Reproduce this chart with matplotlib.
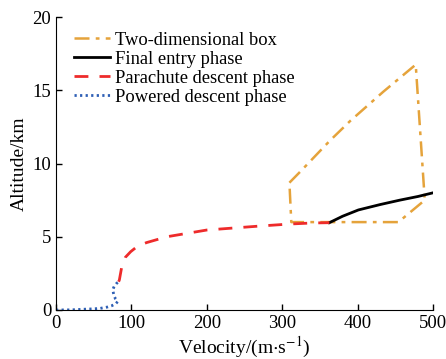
import matplotlib.pyplot as plt

plt.rcParams['font.family'] = ['Liberation Serif', 'DejaVu Serif']
plt.rcParams['mathtext.fontset'] = 'stix'

# 二维盒子边界
box_v = [309.5, 324, 363, 390, 434, 477, 489, 454, 312, 309.5]
box_h = [8.69, 9.45, 11.55, 12.9, 14.9, 16.75, 7.5, 6.0, 6.0, 8.69]

# 最终进入段
entry_v = [362.5, 380, 401, 430, 456, 480, 500]
entry_h = [5.96, 6.4, 6.83, 7.2, 7.5, 7.75, 8.0]

# 降落伞减速段
chute_v = [83, 84, 87, 92, 99, 108, 120, 147, 200, 270, 310, 340, 362.5]
chute_h = [1.93, 2.05, 2.9, 3.6, 3.98, 4.35, 4.6, 5.0, 5.46, 5.73, 5.87, 5.94, 5.96]

# 动力下降段
power_v = [0, 20, 36, 50, 58.4, 68, 73.8, 79, 81.8, 79, 77, 75.2, 77, 80, 83]
power_h = [0, 0.01, 0.05, 0.08, 0.11, 0.2, 0.29, 0.42, 0.57, 0.75, 0.96, 1.37, 1.6, 1.8, 1.93]

fig = plt.figure(figsize=(4.46, 3.59), dpi=100)
ax = fig.add_axes([0.1256, 0.1365, 0.8454, 0.8161])

ax.plot(box_v, box_h, color='#E5A33B', lw=1.8, dashes=[6, 2.5, 1.5, 2.5], label='Two-dimensional box')
ax.plot(entry_v, entry_h, color='black', lw=2.0, label='Final entry phase')
ax.plot(chute_v, chute_h, color='#EE2B2B', lw=2.0, dashes=[5, 4], label='Parachute descent phase')
ax.plot(power_v, power_h, color='#2E5FB5', lw=2.0, dashes=[0.8, 1.2], label='Powered descent phase')

ax.set_xlim(0, 500)
ax.set_ylim(0, 20)
ax.set_xticks([0, 100, 200, 300, 400, 500])
ax.set_yticks([0, 5, 10, 15, 20])
ax.tick_params(direction='in', labelsize=13.5, length=4, width=1)
for s in ['top', 'right']:
    ax.spines[s].set_visible(False)
ax.set_xlabel(r'Velocity/(m$\cdot$s$^{-1}$)', fontsize=14, labelpad=2)
ax.set_ylabel('Altitude/km', fontsize=14, labelpad=3)

ax.legend(loc='upper left', bbox_to_anchor=(0.027, 0.975), frameon=False, fontsize=13.3,
          handlelength=1.95, handletextpad=0.3, labelspacing=0.11, borderaxespad=0)

fig.savefig('out.png', dpi=100)
